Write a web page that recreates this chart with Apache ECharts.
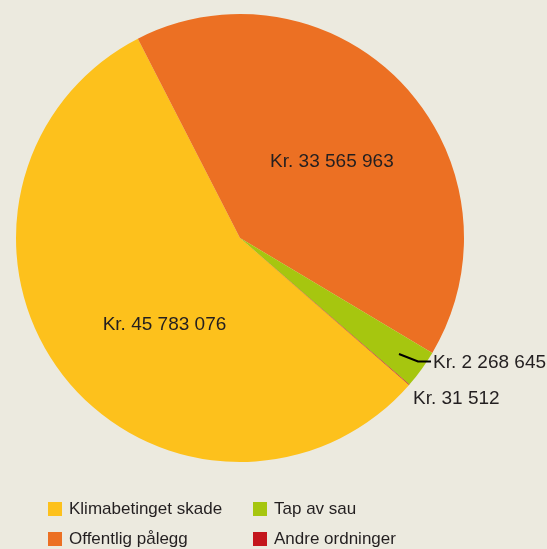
<!DOCTYPE html>
<html><head><meta charset="utf-8">
<script src="https://cdn.jsdelivr.net/npm/echarts@6/dist/echarts.min.js"></script>
<style>html,body{margin:0;padding:0;background:#ECEADF;}#c{width:547px;height:549px;}</style>
</head><body><div id="c"></div>
<script>
const categories = ['Klimabetinget skade', 'Offentlig pålegg', 'Tap av sau', 'Andre ordninger'];
const values = [45783076, 33565963, 2268645, 31512];
const labels = ['Kr. 45 783 076', 'Kr. 33 565 963', 'Kr. 2 268 645', 'Kr. 31 512'];
const colors = ['#FDC11C', '#EC7023', '#A6C60F', '#C4161C'];

const FONT = '"Liberation Sans Narrow", "Liberation Sans", Arial, sans-serif';
const legendPos = [[48, 500.5], [48, 530.5], [253, 500.5], [253, 530.5]];
const chart = echarts.init(document.getElementById('c'));
const labelStyle = { fontFamily: FONT, fontSize: 19, color: '#231F20', overflow: 'none' };
chart.setOption({
  backgroundColor: '#ECEADF',
  animation: false,
  legend: categories.map((n, i) => ({
    data: [n], orient: 'horizontal', left: legendPos[i][0], top: legendPos[i][1], icon: 'rect', padding: 0,
    itemWidth: 14, itemHeight: 14, selectedMode: false,
    textStyle: { fontFamily: FONT, fontSize: 17, lineHeight: 14, color: '#231F20', padding: [0, 0, 0, 2] }
  })),
  series: [{
    type: 'pie',
    center: [240, 238],
    radius: 224,
    startAngle: -41,
    clockwise: true,
    silent: true,
    z: 2,
    data: categories.map((n, i) => ({
      name: n, value: values[i], itemStyle: { color: colors[i] },
      label: Object.assign({ show: i !== 2, position: i < 2 ? 'inside' : 'outside', formatter: labels[i] }, labelStyle),
      labelLine: { show: false }
    })),
    labelLayout: function (p) {
      const i = p.dataIndex;
      if (i === 0) return { dx: 15, dy: 16 };
      if (i === 1) return { dx: 8, dy: 2 };
      if (i === 3) return { x: 413, y: 399, align: 'left', verticalAlign: 'middle' };
    }
  }, {
    type: 'pie',
    center: [240, 238],
    radius: 224,
    startAngle: -41,
    clockwise: true,
    silent: true,
    z: 5,
    data: categories.map((n, i) => ({
      name: n, value: values[i], itemStyle: { color: 'rgba(0,0,0,0)' },
      label: Object.assign({ show: i === 2, position: 'outside', formatter: labels[i] }, labelStyle),
      labelLine: { show: i === 2, lineStyle: { color: '#000', width: 2 }, maxSurfaceAngle: 180, minTurnAngle: 0 }
    })),
    labelLayout: function (p) {
      if (p.dataIndex === 2) return { x: 433, y: 362.5, align: 'left', verticalAlign: 'middle',
        labelLinePoints: [[399, 354], [418, 361.5], [431, 361.5]] };
    }
  }]
});
</script></body></html>
